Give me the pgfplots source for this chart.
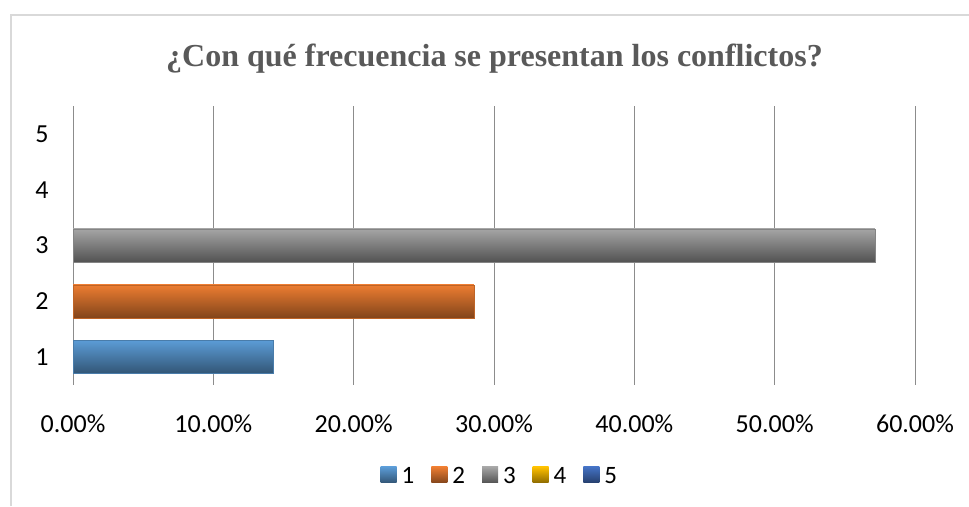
\documentclass[border=0pt]{standalone}
\usepackage{pgfplots}
\pgfplotsset{compat=1.18}
\usepackage{fontspec}
\setmainfont{Carlito}
\newfontfamily\titlefont{Liberation Serif}
\definecolor{cA}{HTML}{5B9BD5}
\definecolor{cB}{HTML}{ED7D31}
\definecolor{cC}{HTML}{A5A5A5}
\definecolor{cD}{HTML}{FFC000}
\definecolor{cE}{HTML}{4472C4}
\definecolor{gridc}{HTML}{8C8C8C}
\definecolor{framec}{HTML}{D9D9D9}
\definecolor{titlec}{HTML}{595959}
\begin{document}
\begin{tikzpicture}[x=1pt,y=1pt]
\useasboundingbox (0,0) rectangle (969,506);
\draw[framec, line width=1.5pt] (11,0) -- (11,491) -- (969,491);
\node[font=\titlefont\bfseries\fontsize{32}{36}\selectfont, text=titlec, anchor=base] at (494.5,439) {¿Con qué frecuencia se presentan los conflictos?};
\begin{axis}[
  at={(73pt,121pt)}, anchor=south west,
  scale only axis, width=842pt, height=279pt,
  xbar, bar width=33pt, bar shift=0pt,
  xmin=0, xmax=60, ymin=0.5, ymax=5.5,
  xtick={0,10,20,30,40,50,60},
  xticklabels={0.00\%,10.00\%,20.00\%,30.00\%,40.00\%,50.00\%,60.00\%},
  ytick={1,2,3,4,5},
  yticklabels={1,2,3,4,5},
  ticklabel style={font=\fontsize{26}{30}\selectfont, text=black},
  xticklabel style={anchor=center, yshift=-39pt},
  yticklabel style={anchor=center, xshift=-31pt},
  major tick length=0pt,
  axis line style={draw=none},
  xmajorgrids, ymajorgrids=false,
  grid style={gridc, line width=1pt},
  legend columns=5,
  legend style={at={(0.507,-0.326)}, anchor=center, draw=none, fill=none,
    font=\fontsize{25}{28}\selectfont, column sep=3pt,
    /tikz/every even column/.append style={column sep=15pt}},
  legend image code/.code={\path[#1, draw=none] (0pt,-7pt) rectangle (16pt,9pt);},
]
\addplot[draw=cA!80!black, top color=cA, middle color=cA!55!white, bottom color=cA!55!black] coordinates {(14.29,1)};
\addplot[draw=cB!80!black, top color=cB, middle color=cB!60!white, bottom color=cB!55!black] coordinates {(28.57,2)};
\addplot[draw=cC!80!black, top color=cC, middle color=cC!60!white, bottom color=cC!50!black] coordinates {(57.14,3)};
\addplot[draw=none, top color=cD, middle color=cD!60!white, bottom color=cD!55!black] coordinates {(0,4)};
\addplot[draw=none, top color=cE, middle color=cE!60!white, bottom color=cE!55!black] coordinates {(0,5)};
\legend{1,2,3,4,5}
\end{axis}
\end{tikzpicture}
\end{document}
